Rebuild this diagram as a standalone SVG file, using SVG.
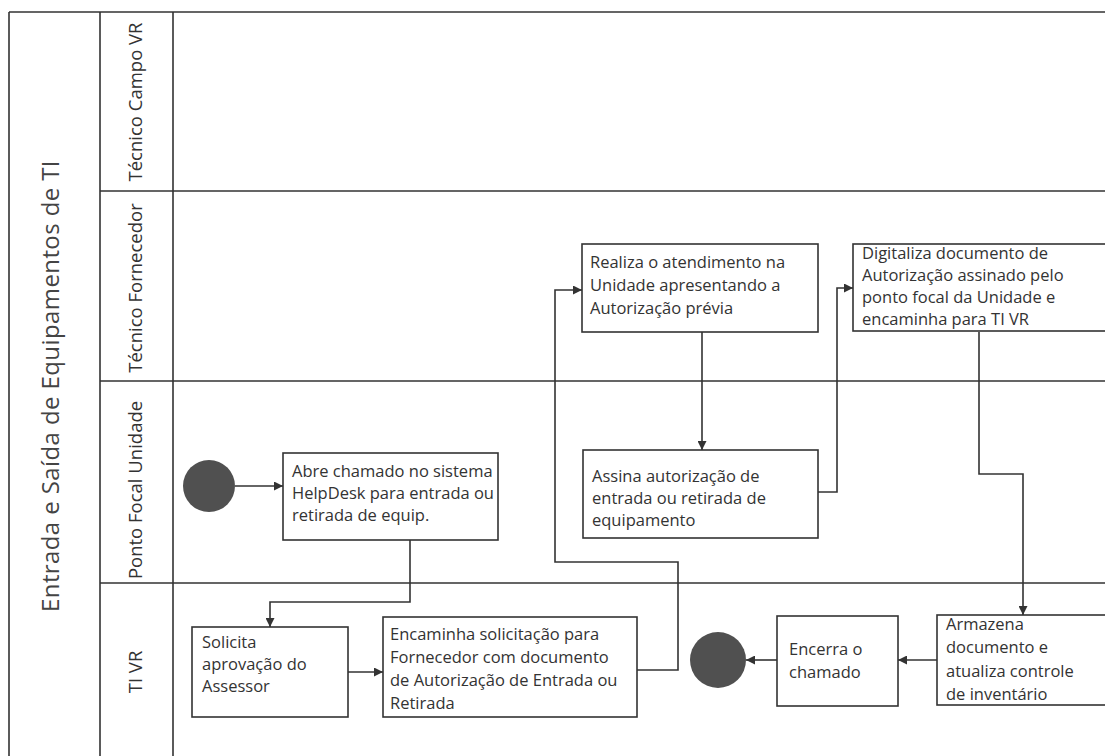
<svg xmlns="http://www.w3.org/2000/svg" width="1105" height="756" viewBox="0 0 1105 756">
<defs>
<style>
.lane{stroke:#333;stroke-width:1.6;fill:none}
.box{fill:#fff;stroke:#333;stroke-width:1.6}
.t{font-family:"Open Sans","Liberation Sans",sans-serif;font-size:16.5px;fill:#333}
.lbl{font-family:"Open Sans","Liberation Sans",sans-serif;font-size:18.5px;fill:#333;text-anchor:middle}
.title{font-family:"Open Sans","Liberation Sans",sans-serif;font-size:24px;letter-spacing:0.4px;fill:#444;text-anchor:middle}
.con{stroke:#333;stroke-width:1.6;fill:none;marker-end:url(#ah)}
.dot{fill:#505050}
</style>
<marker id="ah" markerUnits="userSpaceOnUse" markerWidth="10" markerHeight="9" refX="9" refY="4.5" orient="auto">
<path d="M0,0 L9,4.5 L0,9 z" fill="#333"/>
</marker>
</defs>
<rect width="1105" height="756" fill="#fff"/>
<g id="pool">
<path class="lane" d="M9 12 H1105 M9 12 V756 M100 12 V756 M173 12 V756 M100 191 H1105 M100 381 H1105 M100 583 H1105"/>
<text class="title" transform="translate(59,386) rotate(-90)">Entrada e Saída de Equipamentos de TI</text>
<text class="lbl" transform="translate(142,102) rotate(-90)">Técnico Campo VR</text>
<text class="lbl" transform="translate(142,288) rotate(-90)">Técnico Fornecedor</text>
<text class="lbl" transform="translate(142,490) rotate(-90)">Ponto Focal Unidade</text>
<text class="lbl" transform="translate(142,672) rotate(-90)">TI VR</text>
</g>
<g id="connectors">
<path class="con" d="M235 486 H283"/>
<path class="con" d="M410 540 V602 H270 V627"/>
<path class="con" d="M348 672 H383"/>
<path class="con" d="M637 670 H678 V562 H555 V290 H582"/>
<path class="con" d="M702 332 V450"/>
<path class="con" d="M818 492 H837 V288 H853"/>
<path class="con" d="M979 332 V474 H1023 V615"/>
<path class="con" d="M937 660 H898"/>
<path class="con" d="M777 660 H746"/>
</g>
<g id="start"><circle class="dot" cx="209" cy="486" r="26"/></g>
<g id="abre">
<rect class="box" x="283" y="453" width="215" height="87"/>
<text class="t" x="292" y="477">Abre chamado no sistema</text>
<text class="t" x="292" y="499">HelpDesk para entrada ou</text>
<text class="t" x="292" y="521">retirada de equip.</text>
</g>
<g id="solicita">
<rect class="box" x="192" y="627" width="156" height="90"/>
<text class="t" x="202" y="648">Solicita</text>
<text class="t" x="202" y="670">aprovação do</text>
<text class="t" x="202" y="692">Assessor</text>
</g>
<g id="encaminha">
<rect class="box" x="383" y="617" width="254" height="100"/>
<text class="t" x="390" y="640">Encaminha solicitação para</text>
<text class="t" x="390" y="663">Fornecedor com documento</text>
<text class="t" x="390" y="686">de Autorização de Entrada ou</text>
<text class="t" x="390" y="709">Retirada</text>
</g>
<g id="realiza">
<rect class="box" x="582" y="244" width="236" height="88"/>
<text class="t" x="590" y="268">Realiza o atendimento na</text>
<text class="t" x="590" y="291">Unidade apresentando a</text>
<text class="t" x="590" y="314">Autorização prévia</text>
</g>
<g id="assina">
<rect class="box" x="583" y="450" width="235" height="88"/>
<text class="t" x="592" y="482">Assina autorização de</text>
<text class="t" x="592" y="504">entrada ou retirada de</text>
<text class="t" x="592" y="526">equipamento</text>
</g>
<g id="digitaliza">
<rect class="box" x="853" y="244" width="270" height="87"/>
<text class="t" x="862" y="259">Digitaliza documento de</text>
<text class="t" x="862" y="281">Autorização assinado pelo</text>
<text class="t" x="862" y="303">ponto focal da Unidade e</text>
<text class="t" x="862" y="325">encaminha para TI VR</text>
</g>
<g id="armazena">
<rect class="box" x="937" y="615" width="180" height="90"/>
<text class="t" x="946" y="630">Armazena</text>
<text class="t" x="946" y="653">documento e</text>
<text class="t" x="946" y="677">atualiza controle</text>
<text class="t" x="946" y="700">de inventário</text>
</g>
<g id="encerra">
<rect class="box" x="777" y="616" width="121" height="90"/>
<text class="t" x="789" y="655">Encerra o</text>
<text class="t" x="789" y="678">chamado</text>
</g>
<g id="end"><circle class="dot" cx="718" cy="660" r="28"/></g>
</svg>
